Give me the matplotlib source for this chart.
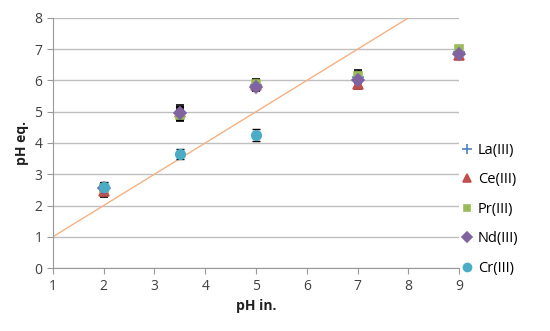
import matplotlib
matplotlib.use('Agg')
import matplotlib.pyplot as plt
from matplotlib.lines import Line2D

plt.rcParams['font.family'] = ['Open Sans', 'DejaVu Sans']

ph_in = [2, 3.5, 5, 7, 9]
la = [2.55, 4.95, 5.85, 6.1, 6.9]
ce = [2.45, 5.0, 5.85, 5.9, 6.8]
pr = [2.55, 4.9, 5.9, 6.15, 7.0]
nd = [2.55, 4.95, 5.8, 6.0, 6.85]
cr = [2.6, 3.65, 4.25]
err = [0.18, 0.2, 0.15, 0.18, 0.1]
cr_err = [0.15, 0.15, 0.2]
ref_line = [1, 8]

series = [
    ('La(III)', la, '+', '#4F81BD', 8),
    ('Ce(III)', ce, '^', '#C0504D', 7),
    ('Pr(III)', pr, 's', '#9BBB59', 6),
    ('Nd(III)', nd, 'D', '#8064A2', 6),
]

fig = plt.figure(figsize=(5.5, 3.31), dpi=100)
ax = fig.add_axes([0.096, 0.19, 0.739, 0.756])

ax.plot(ref_line, ref_line, color='#F4B183', lw=1, zorder=2)

handles = []
for name, vals, m, c, s in series:
    ax.errorbar(ph_in, vals, yerr=err, fmt=m, color=c, ms=s, mew=1.2,
                ecolor='black', elinewidth=1, capsize=3, zorder=3, clip_on=False)
    handles.append(Line2D([], [], ls='none', marker=m, color=c, ms=s - 1, mew=1.2, label=name))

ax.errorbar(ph_in[:3], cr, yerr=cr_err, fmt='o', color='#4BACC6', ms=7,
            ecolor='black', elinewidth=1, capsize=3, zorder=3)
handles.append(Line2D([], [], ls='none', marker='o', color='#4BACC6', ms=6, label='Cr(III)'))

ax.set_xlim(1, 9)
ax.set_ylim(0, 8)
ax.set_xticks(range(1, 10))
ax.set_yticks(range(0, 9))
ax.grid(axis='y', color='#BFBFBF', lw=1)
ax.set_axisbelow(True)
for sp in ['top', 'right']:
    ax.spines[sp].set_visible(False)
ax.spines['left'].set_color('#999999')
ax.spines['bottom'].set_color('#999999')
ax.tick_params(colors='#999999', labelcolor='#404040', labelsize=10, length=4)
ax.set_xlabel('pH in.', fontsize=10, fontweight='bold', color='#202020')
ax.set_ylabel('pH eq.', fontsize=10, fontweight='bold', color='#202020')

ax.legend(handles=handles, loc='center left', bbox_to_anchor=(0.97, 0.235), frameon=False,
          fontsize=10.5, handletextpad=0.2, labelspacing=1.0, handlelength=1)

fig.savefig('out.png', dpi=100)
